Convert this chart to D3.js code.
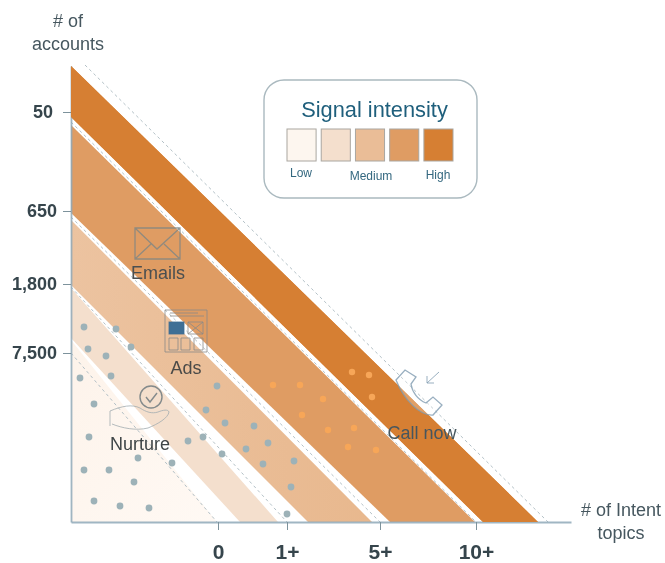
<!DOCTYPE html>
<html>
<head>
<meta charset="utf-8">
<script src="https://cdn.jsdelivr.net/npm/d3@7"></script>
<style>
    html, body { margin: 0; padding: 0; background: #fff; }
    svg { display: block; filter: blur(0.6px); font-family: "Liberation Sans", Arial, sans-serif; }
</style>
</head>
<body>
<div id="chart"></div>
<script>
// tick labels and where they sit along each axis (chart units)
var accountLabels = ["50", "650", "1,800", "7,500"];
var accountTicks = [410, 311, 238, 169];
var topicLabels = ["0", "1+", "5+", "10+"];
var topicTicks = [147, 216, 309, 405];

// bands, low to high: axis intercepts of the upper and lower edge
var bandNames = ["Low", "Low-medium", "Medium", "Medium-high", "High"];
var bandTopX = [146, 207, 301, 404, 467];
var bandTopY = [182, 234, 302, 397, 456];
var bandBottomX = [0, 169, 237, 319, 412];
var bandBottomY = [0, 184, 237, 309, 405];

// dashed guides
var guideX0 = [0, 0, 0, 0, 14];
var guideY0 = [169, 235, 305, 400, 457];
var guideX1 = [146, 216, 309, 405, 477];

// legend
var legendLabels = ["Low", "Medium", "High"];
var legendColors = ["#fdf6ef", "#f4dfcd", "#eabd97", "#df9c63", "#d67f33"];

// dots
var coldX = [13, 45, 60, 17, 35, 40, 9, 23, 18, 67, 13, 38, 63, 23, 49, 78, 101, 117, 132, 151, 146, 135, 154, 183, 197, 175, 192, 223, 220, 216];
var coldY = [195, 193, 175, 173, 166, 146, 144, 118, 85, 64, 52, 52, 40, 21, 16, 14, 59, 81, 85, 68, 136, 112, 99, 96, 79, 73, 58, 61, 35, 8];
var hotX = [202, 229, 252, 231, 257, 283, 277, 305, 281, 298, 301];
var hotY = [137, 137, 123, 107, 92, 94, 75, 72, 150, 147, 125];

var width = 665, height = 563;
var margin = {top: 66, right: 94, bottom: 41, left: 71};
var innerW = width - margin.left - margin.right,
    innerH = height - margin.top - margin.bottom;

var x = d3.scaleLinear().domain([0, 500]).range([0, innerW]);
var y = d3.scaleLinear().domain([0, 456]).range([innerH, 0]);

var svg = d3.select("#chart").append("svg")
    .attr("width", width)
    .attr("height", height);

var g = svg.append("g")
    .attr("transform", "translate(" + margin.left + "," + margin.top + ")");

var line = d3.line()
    .x(function (d) { return x(d[0]); })
    .y(function (d) { return y(d[1]); });

// soft fade on the two lighter bands
var defs = svg.append("defs");
var fade = defs.append("linearGradient").attr("id", "fadeLow")
    .attr("x1", 0).attr("y1", 0).attr("x2", 1).attr("y2", 1);
fade.append("stop").attr("offset", "0%").attr("stop-color", "#fdf3ea");
fade.append("stop").attr("offset", "100%").attr("stop-color", "#fff9f4");
var fadeMid = defs.append("linearGradient").attr("id", "fadeMid")
    .attr("x1", 0).attr("y1", 0).attr("x2", 1).attr("y2", 0);
fadeMid.append("stop").attr("offset", "0%").attr("stop-color", "#ecc3a0");
fadeMid.append("stop").attr("offset", "100%").attr("stop-color", "#e8b88e");

var bandFills = ["url(#fadeLow)", "#f4dfcd", "url(#fadeMid)", "#df9c63", "#d67f33"];

function bandPath(d, i) {
    return line([[0, bandTopY[i]], [bandTopX[i], 0], [bandBottomX[i], 0], [0, bandBottomY[i]]]) + "Z";
}

g.selectAll("path.band")
    .data(bandNames)
    .enter().append("path")
    .attr("class", "band")
    .attr("fill", function (d, i) { return bandFills[i]; })
    .attr("d", bandPath);

g.selectAll("path.guide")
    .data(guideX0)
    .enter().append("path")
    .attr("class", "guide")
    .attr("fill", "none")
    .attr("stroke", "#b3c0c6")
    .attr("stroke-width", 1)
    .attr("stroke-dasharray", "3,3")
    .attr("d", function (d, i) {
        return line([[d, guideY0[i]], [guideX1[i], 0]]);
    });

// axes
var yAxis = d3.axisLeft(y)
    .tickValues(accountTicks)
    .tickSize(8)
    .tickPadding(6)
    .tickSizeOuter(0)
    .tickFormat(function (d, i) { return accountLabels[i]; });

var xAxis = d3.axisBottom(x)
    .tickValues(topicTicks)
    .tickSize(8)
    .tickPadding(14)
    .tickSizeOuter(0)
    .tickFormat(function (d, i) { return topicLabels[i]; });

var yG = g.append("g").call(yAxis);
var xG = g.append("g").attr("transform", "translate(0," + innerH + ")").call(xAxis);

[yG, xG].forEach(function (a) {
    a.select(".domain").attr("stroke", "#8fa9b8").attr("stroke-width", 1.8).attr("stroke-opacity", 0.85);
    a.selectAll(".tick line").attr("stroke", "#7d929c").attr("stroke-width", 1);
    a.selectAll(".tick text")
        .attr("font-family", '"Liberation Sans", Arial, sans-serif')
        .attr("font-weight", "bold")
        .attr("fill", "#36454c");
});
yG.selectAll(".tick text").attr("font-size", 18);
xG.selectAll(".tick text").attr("font-size", 21);
yG.selectAll(".tick").filter(function (d, i) { return i === 0; }).select("text").attr("dx", -4);

// top band goes back over the axis line, the original has no blue line there
g.append("path")
    .attr("fill", bandFills[4])
    .attr("d", bandPath(null, 4));

// dots
g.selectAll("circle.cold")
    .data(coldX)
    .enter().append("circle")
    .attr("class", "cold")
    .attr("cx", function (d) { return x(d); })
    .attr("cy", function (d, i) { return y(coldY[i]); })
    .attr("r", 3.4)
    .attr("fill", "#9db2b8");

g.selectAll("circle.hot")
    .data(hotX)
    .enter().append("circle")
    .attr("class", "hot")
    .attr("cx", function (d) { return x(d); })
    .attr("cy", function (d, i) { return y(hotY[i]); })
    .attr("r", 3.2)
    .attr("fill", "#f7a658");

// axis titles and zone labels
function label(parent, txt, px, py, size, color) {
    return parent.append("text")
        .attr("x", px).attr("y", py)
        .attr("text-anchor", "middle")
        .attr("font-size", size)
        .attr("fill", color)
        .text(txt);
}
label(svg, "# of", 68, 27, 18, "#46575f");
label(svg, "accounts", 68, 50, 18, "#46575f");
label(svg, "# of Intent", 621, 516, 18, "#46575f");
label(svg, "topics", 621, 539, 18, "#46575f");
label(svg, "Emails", 158, 279, 18, "#4a4f50");
label(svg, "Ads", 186, 374, 18, "#4a4a48");
label(svg, "Nurture", 140, 450, 18, "#3f4547");
label(svg, "Call now", 422, 439, 18, "#46565e");

// legend box
svg.append("rect")
    .attr("x", 264).attr("y", 80)
    .attr("width", 213).attr("height", 118)
    .attr("rx", 20)
    .attr("fill", "#fff")
    .attr("stroke", "#aab9bf")
    .attr("stroke-width", 1.4);
label(svg, "Signal intensity", 374.5, 117, 21.8, "#1f5f7c");

var swatch = d3.scaleBand().domain(d3.range(legendColors.length)).range([287, 453]).paddingInner(0.15);
svg.selectAll("rect.swatch")
    .data(legendColors)
    .enter().append("rect")
    .attr("class", "swatch")
    .attr("x", function (d, i) { return swatch(i); })
    .attr("y", 129)
    .attr("width", swatch.bandwidth())
    .attr("height", 32)
    .attr("fill", function (d) { return d; })
    .attr("stroke", "#a9a6a0")
    .attr("stroke-width", 1);

label(svg, legendLabels[0], 301, 177, 12, "#33677f");
label(svg, legendLabels[1], 371, 180, 12, "#33677f");
label(svg, legendLabels[2], 438, 179, 12, "#33677f");

// icons
var icons = svg.append("g")
    .attr("fill", "none")
    .attr("stroke", "#7d8684")
    .attr("stroke-width", 1.3)
    .attr("stroke-opacity", 0.8);

// envelope
icons.append("path").attr("d", "M135,228H180V259H135ZM135,228L157,249L180,228M135,259L151,244M180,259L164,244");

// ads panel
var ads = icons.append("g").attr("stroke", "#8a8a87").attr("stroke-width", 1);
ads.append("path").attr("d", "M165,310H207V352H165ZM170,316H204M170,313H198");
ads.append("rect").attr("x", 169).attr("y", 322).attr("width", 15).attr("height", 12)
    .attr("fill", "#3f6f95").attr("stroke", "#3f6f95");
ads.append("path").attr("d", "M188,322H203V334H188ZM188,322L203,334M203,322L188,334");
ads.append("path").attr("d", "M169,338H178V350H169ZM181,338H190V350H181ZM194,338H203V350H194Z");

// hand with check
var hand = icons.append("g").attr("stroke", "#a3adb0").attr("stroke-width", 1);
hand.append("circle").attr("cx", 151).attr("cy", 397).attr("r", 11).attr("stroke", "#66747a").attr("stroke-width", 1.4);
hand.append("path").attr("d", "M146,397L150,402L157,393").attr("stroke", "#66747a").attr("stroke-width", 1.4);
hand.append("path").attr("d", "M110,426V411C122,406 132,404 140,408C146,412 152,414 158,412C163,410 168,409 169,412C168,418 158,424 148,428C136,431 122,428 112,424");

// phone with arrow
var phone = icons.append("g").attr("stroke", "#7f9bb0").attr("stroke-width", 1.3);
phone.append("path").attr("d", "M396,380L405,370L416,377L411,384C412,392 418,400 426,403L433,397L442,405L433,415C420,416 404,400 396,380Z")
    .attr("fill", "#fff").attr("fill-opacity", 0.25);
phone.append("path").attr("d", "M439,372L427,383M427,376V383H434").attr("stroke-width", 1);
</script>
</body>
</html>
